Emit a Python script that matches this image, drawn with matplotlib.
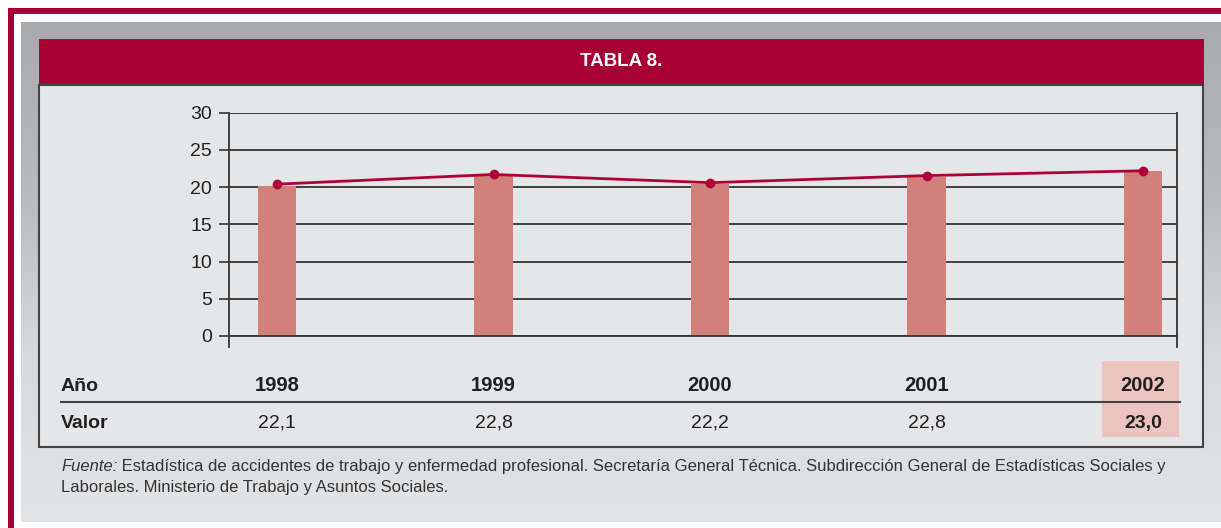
import numpy as np
import matplotlib.pyplot as plt
import matplotlib.transforms as mtransforms
from matplotlib.patches import Rectangle
from matplotlib.colors import LinearSegmentedColormap

# datos
anios = ['1998', '1999', '2000', '2001', '2002']
valores_tabla = ['22,1', '22,8', '22,2', '22,8', '23,0']
barras = [20.15, 21.55, 20.45, 21.4, 22.15]
linea = [20.4, 21.7, 20.6, 21.55, 22.2]
yticks = [0, 5, 10, 15, 20, 25, 30]
titulo = 'TABLA 8.'
fuente_1 = ('Estadística de accidentes de trabajo y enfermedad profesional. '
            'Secretaría General Técnica. Subdirección General de Estadísticas Sociales y')
fuente_2 = 'Laborales. Ministerio de Trabajo y Asuntos Sociales.'

ROJO = '#a80032'
TXT = '#231f20'
plt.rcParams['font.family'] = ['Liberation Sans', 'DejaVu Sans']

W, H = 1221, 528
fig = plt.figure(figsize=(W / 100, H / 100), dpi=100)
fig.patch.set_facecolor('white')

bg = fig.add_axes([0, 0, 1, 1])
bg.set_xlim(0, W)
bg.set_ylim(H, 0)
bg.axis('off')

# fondo gris degradado
grad = np.linspace(0, 1, 256).reshape(-1, 1)
cmap = LinearSegmentedColormap.from_list('g', ['#a9aaad', '#b9babd', '#d8d9db', '#e3e4e6'])
bg.imshow(grad, extent=(21, W, 522, 22), cmap=cmap, aspect='auto', zorder=0)

# marco rojo
bg.add_patch(Rectangle((8, 8), W - 8, 6, color=ROJO, lw=0, zorder=1))
bg.add_patch(Rectangle((8, 8), 6, H - 8, color=ROJO, lw=0, zorder=1))

# cabecera y panel
bg.add_patch(Rectangle((39, 39), 1204 - 39, 46, color=ROJO, lw=0, zorder=2))
bg.add_patch(Rectangle((39, 85), 1203 - 39, 447 - 85, facecolor='#e5e6e8',
                       edgecolor='#444444', lw=1.5, zorder=2))
bg.text(621, 62, titulo, color='white', fontsize=13.5, fontweight='bold',
        ha='center', va='center', zorder=3)

# grafico
ax = fig.add_axes([229 / W, 1 - 336 / H, 948 / W, 223.3 / H])
ax.patch.set_alpha(0)
x = np.arange(len(anios))
ax.bar(x, barras, width=0.176, color='#d2807a', zorder=2)
ax.plot(x, linea, color='#b0003a', lw=2, marker='o', ms=6, zorder=3)
ax.set_xlim(-0.222, 4.157)
ax.set_ylim(0, 30)
ax.set_yticks(yticks)
ax.set_xticks([])
ax.yaxis.grid(True, color='#333333', lw=1.3, zorder=1)
ax.set_axisbelow(True)
for s in ['left', 'right', 'top']:
    ax.spines[s].set_visible(False)
ax.spines['bottom'].set_color('#333333')
ax.spines['bottom'].set_linewidth(1.3)
ax.tick_params(axis='y', direction='out', length=7.2, width=1.2, pad=5,
               labelsize=14, colors='#333333')
ax.tick_params(axis='y', labelcolor=TXT)

# lineas verticales que bajan por debajo del cero
bg.plot([229, 229], [112.7, 346.7], color='#333333', lw=1.3, zorder=3)
bg.plot([1177, 1177], [112.7, 346.7], color='#333333', lw=1.3, zorder=3)

# tabla
bg.add_patch(Rectangle((1102, 361), 77, 76, color='#ecc4bf', lw=0, zorder=2))
bg.plot([61, 1180], [401.5, 401.5], color='#444444', lw=1.5, zorder=3)
tr = mtransforms.blended_transform_factory(ax.transData, bg.transData)
bg.text(61, 391, 'Año', fontsize=14, fontweight='bold', color=TXT,
        ha='left', va='baseline', zorder=4)
bg.text(61, 427.7, 'Valor', fontsize=14, fontweight='bold', color=TXT,
        ha='left', va='baseline', zorder=4)
for i, (a, v) in enumerate(zip(anios, valores_tabla)):
    ax.text(i, 391, a, transform=tr, fontsize=14.5, fontweight='bold', color=TXT,
            ha='center', va='baseline', zorder=4)
    peso = 'bold' if i == len(anios) - 1 else 'normal'
    ax.text(i, 427.7, v, transform=tr, fontsize=14, fontweight=peso, color=TXT,
            ha='center', va='baseline', zorder=4)

# fuente
t1 = bg.text(61, 471, 'Fuente:', fontsize=12, style='italic', color='#333333',
             ha='left', va='baseline', zorder=4)
bg.annotate(' ' + fuente_1, xy=(1, 0), xycoords=t1, fontsize=12, color='#333333',
            ha='left', va='bottom', zorder=4)
bg.text(61, 492, fuente_2, fontsize=12, color='#333333',
        ha='left', va='baseline', zorder=4)

fig.savefig('out.png', dpi=100, facecolor='white')
